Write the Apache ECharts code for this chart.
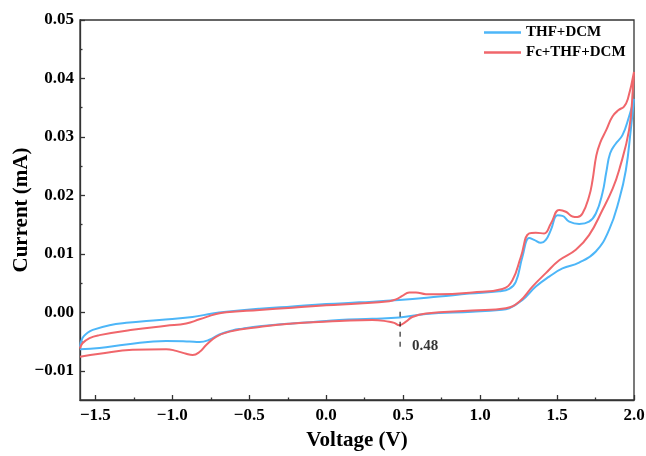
<!DOCTYPE html>
<html>
<head>
<meta charset="utf-8">
<script src="https://cdn.jsdelivr.net/npm/echarts@6/dist/echarts.min.js"></script>
<style>
  html, body { margin: 0; padding: 0; background: #fff; }
  #chart { width: 646px; height: 456px; }
</style>
</head>
<body>
<div id="chart"></div>
<script>
// Cyclic voltammograms: each loop is the forward scan (upper branch, left to right)
// followed by the reverse scan (lower branch, right to left).
const seriesNames = ['THF+DCM', 'Fc+THF+DCM'];

const thfVoltage = [
  -1.600, -1.584, -1.551, -1.517, -1.408, -1.300, -1.084, -0.869, -0.740, -0.649,
  -0.434, -0.220, 0.000, 0.215, 0.474, 0.734, 0.929, 1.124, 1.189, 1.232,
  1.275, 1.319, 1.351, 1.395, 1.427, 1.460, 1.503, 1.535, 1.579, 1.644,
  1.708, 1.752, 1.795, 1.820, 1.845, 1.880, 1.925, 1.968, 2.000,
  1.979, 1.947, 1.903, 1.838, 1.752, 1.643, 1.535, 1.449, 1.362, 1.275,
  1.189, 1.124, 0.949, 0.648, 0.475, 0.299, 0.085, 0.000, -0.220, -0.434,
  -0.545, -0.610, -0.694, -0.759, -0.824, -0.889, -1.040, -1.300, -1.473, -1.600
];
const thfCurrent = [
  -0.0059, -0.0044, -0.0035, -0.0030, -0.0022, -0.0018, -0.0013, -0.0008, -0.0002, 0.0001,
  0.0006, 0.0010, 0.0014, 0.0017, 0.0021, 0.0027, 0.0032, 0.0036, 0.0040, 0.0052,
  0.0095, 0.0127, 0.0124, 0.0119, 0.0124, 0.0141, 0.0166, 0.0165, 0.0155, 0.0151,
  0.0155, 0.0169, 0.0204, 0.0240, 0.0272, 0.0288, 0.0303, 0.0335, 0.0365,
  0.0312, 0.0243, 0.0192, 0.0141, 0.0104, 0.0085, 0.0075, 0.0061, 0.0044, 0.0021,
  0.0007, 0.0004, 0.0001, -0.0003, -0.0009, -0.0011, -0.0013, -0.0015, -0.0019, -0.0024,
  -0.0028, -0.0031, -0.0038, -0.0047, -0.0051, -0.0050, -0.0049, -0.0055, -0.0061, -0.0063
];

const fcVoltage = [
  -1.600, -1.584, -1.538, -1.473, -1.259, -1.040, -0.910, -0.824, -0.716, -0.649,
  -0.434, -0.220, 0.000, 0.215, 0.410, 0.453, 0.494, 0.539, 0.583, 0.648,
  0.734, 0.949, 1.145, 1.210, 1.265, 1.319, 1.362, 1.416, 1.460, 1.514,
  1.557, 1.600, 1.632, 1.665, 1.708, 1.730, 1.755, 1.780, 1.820, 1.860,
  1.900, 1.935, 1.960, 2.000,
  1.994, 1.968, 1.903, 1.862, 1.795, 1.708, 1.622, 1.514, 1.427, 1.340,
  1.254, 1.167, 0.949, 0.648, 0.559, 0.518, 0.475, 0.442, 0.410, 0.299,
  0.085, -0.220, -0.434, -0.629, -0.716, -0.780, -0.824, -0.868, -0.910, -0.975,
  -1.040, -1.259, -1.473, -1.600
];
const fcCurrent = [
  -0.0062, -0.0053, -0.0044, -0.0039, -0.0030, -0.0023, -0.0019, -0.0012, -0.0003, 0.0000,
  0.0004, 0.0008, 0.0012, 0.0015, 0.0019, 0.0022, 0.0028, 0.0034, 0.0034, 0.0031,
  0.0031, 0.0034, 0.0040, 0.0055, 0.0095, 0.0135, 0.0136, 0.0135, 0.0152, 0.0175,
  0.0172, 0.0164, 0.0163, 0.0169, 0.0198, 0.0225, 0.0268, 0.0290, 0.0312, 0.0335,
  0.0346, 0.0352, 0.0365, 0.0411,
  0.0386, 0.0312, 0.0243, 0.0212, 0.0175, 0.0132, 0.0107, 0.0089, 0.0067, 0.0044,
  0.0018, 0.0007, 0.0003, -0.0002, -0.0008, -0.0016, -0.0022, -0.0018, -0.0016, -0.0013,
  -0.0015, -0.0019, -0.0025, -0.0033, -0.0042, -0.0056, -0.0068, -0.0073, -0.0071, -0.0066,
  -0.0063, -0.0064, -0.0071, -0.0076
];

// Ferrocene reduction peak marker
const peakVoltage = 0.48;
const peakLineCurrent = [0.0001, -0.0060];
const peakLabelCurrent = -0.0058;

// Axis ticks
const xTicks = [-1.5, -1.0, -0.5, 0.0, 0.5, 1.0, 1.5, 2.0];
const xMinorTicks = [-1.25, -0.75, -0.25, 0.25, 0.75, 1.25, 1.75];
const yTicks = [-0.01, 0.00, 0.01, 0.02, 0.03, 0.04, 0.05];
const yMinorTicks = [-0.005, 0.005, 0.015, 0.025, 0.035, 0.045];

const pairs = (xs, ys) => xs.map((x, i) => [x, ys[i]]);
const serif = '"Liberation Serif", "Times New Roman", serif';
const axisColor = '#333';
const fmt = d => v => v.toFixed(d).replace('-', '\u2212');

const labelStyle = { fontFamily: serif, fontWeight: 'bold', fontSize: 17, color: '#000' };
const nameStyle = { fontFamily: serif, fontWeight: 'bold', fontSize: 21, color: '#000' };
const tickLine = { color: axisColor, width: 1.3 };

const chart = echarts.init(document.getElementById('chart'));
chart.setOption({
  animation: false,
  backgroundColor: '#fff',
  grid: {
    left: 80, right: 12, top: 20, bottom: 56,
    outerBoundsMode: 'none',
    show: true, borderColor: axisColor, borderWidth: 1.3
  },
  legend: {
    data: seriesNames.map(n => ({ name: n, icon: 'rect' })),
    orient: 'vertical',
    left: 484, top: 25, padding: 0,
    itemWidth: 37, itemHeight: 2.5, itemGap: 5,
    textStyle: { fontFamily: serif, fontWeight: 'bold', fontSize: 15, color: '#000' }
  },
  xAxis: [
    {
      type: 'value', min: -1.6, max: 2.0, position: 'bottom',
      name: 'Voltage (V)', nameLocation: 'middle', nameGap: 30, nameMoveOverlap: false,
      nameTextStyle: nameStyle,
      splitLine: { show: false },
      axisLine: { onZero: false, lineStyle: tickLine },
      axisTick: { inside: true, length: 5, customValues: xTicks, lineStyle: tickLine },
      axisLabel: Object.assign({ customValues: xTicks, margin: 7, formatter: fmt(1) }, labelStyle)
    },
    {
      type: 'value', min: -1.6, max: 2.0, position: 'bottom',
      splitLine: { show: false },
      axisLine: { show: false, onZero: false },
      axisTick: { inside: true, length: 2.5, customValues: xMinorTicks, lineStyle: tickLine },
      axisLabel: { show: false }
    }
  ],
  yAxis: [
    {
      type: 'value', min: -0.015, max: 0.05, position: 'left',
      name: 'Current (mA)', nameLocation: 'middle', nameGap: 48, nameMoveOverlap: false,
      nameTextStyle: nameStyle,
      splitLine: { show: false },
      axisLine: { onZero: false, lineStyle: tickLine },
      axisTick: { inside: true, length: 5, customValues: yTicks, lineStyle: tickLine },
      axisLabel: Object.assign({ customValues: yTicks, margin: 6, formatter: fmt(2) }, labelStyle)
    },
    {
      type: 'value', min: -0.015, max: 0.05, position: 'left',
      splitLine: { show: false },
      axisLine: { show: false, onZero: false },
      axisTick: { inside: true, length: 2.5, customValues: yMinorTicks, lineStyle: tickLine },
      axisLabel: { show: false }
    }
  ],
  series: [
    {
      name: seriesNames[0], type: 'line', data: pairs(thfVoltage, thfCurrent),
      showSymbol: false, smooth: 0.45,
      lineStyle: { color: '#4DB6F8', width: 2 }, itemStyle: { color: '#4DB6F8' }
    },
    {
      name: seriesNames[1], type: 'line', data: pairs(fcVoltage, fcCurrent),
      showSymbol: false, smooth: 0.45,
      lineStyle: { color: '#F0666B', width: 2 }, itemStyle: { color: '#F0666B' }
    },
    {
      name: 'peak', type: 'line', silent: true, showSymbol: false,
      data: peakLineCurrent.map(c => [peakVoltage, c]),
      lineStyle: { color: '#000', width: 1, type: [5, 5] }
    },
    {
      name: 'peakLabel', type: 'scatter', silent: true, symbolSize: 0,
      data: [[peakVoltage, peakLabelCurrent]],
      label: {
        show: true, position: 'right', distance: 12,
        formatter: p => p.value[0].toFixed(2),
        fontFamily: serif, fontWeight: 'bold', fontSize: 15, color: '#000'
      }
    }
  ]
});
</script>
</body>
</html>
